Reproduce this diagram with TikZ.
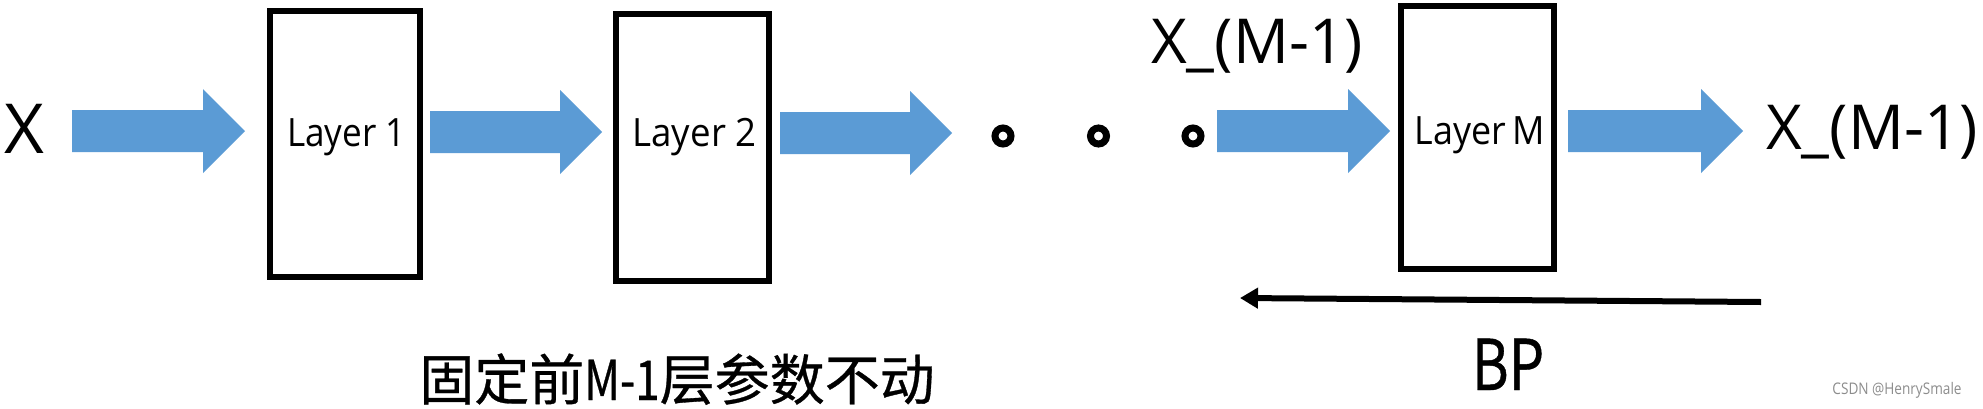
\documentclass[tikz,border=0pt]{standalone}
\usepackage{fontspec}
\setmainfont{Open Sans}
\newfontfamily\cjk{Noto Sans CJK SC}[FakeBold=0.6]
\usetikzlibrary{arrows.meta}
\definecolor{arrowblue}{RGB}{91,155,213}
\newcommand\blockarrow[3]{%
  \fill[arrowblue] (#1,#3-21) -- (#2-42,#3-21) -- (#2-42,#3-42) -- (#2,#3) -- (#2-42,#3+42) -- (#2-42,#3+21) -- (#1,#3+21) -- cycle;}
\begin{document}
\begin{tikzpicture}[x=1pt,y=-1pt,
  layerbox/.style={draw=black,line width=6pt,minimum width=153pt,minimum height=266pt,inner sep=0pt},
  bigtxt/.style={anchor=base,inner sep=0pt,font=\fontsize{62}{74}\selectfont},
  laytxt/.style={anchor=base,inner sep=0pt,font=\fontsize{39}{47}\selectfont},
  dotring/.style={draw=black,line width=7pt,circle,minimum size=16pt,inner sep=0pt},
  cjktxt/.style={anchor=base,inner sep=0pt,font=\cjk\fontsize{55}{66}\selectfont}]
\useasboundingbox (0,0) rectangle (1983,408);
% boxes
\node[layerbox,minimum width=150pt] (b1) at (345,144) {};
\node[layerbox,minimum height=267pt] (b2) at (692.5,147.5) {};
\node[layerbox,minimum height=263pt] (bm) at (1477.5,137.5) {};
% labels in boxes
\node[laytxt] (l1) at (346.5,146) {\scalebox{0.9}[1]{Layer 1}};
\node[laytxt] (l2) at (694.5,146) {\scalebox{0.94}[1]{Layer 2}};
\node[laytxt] (lm) at (1480,144) {\scalebox{0.92}[1]{Layer\hspace{7pt}M}};
% texts
\node[anchor=base,inner sep=0pt,font=\fontsize{69}{80}\selectfont] (x) at (24,153) {X};
\node[bigtxt] (xin) at (1257,63) {X\_(M-1)};
\node[bigtxt] (xout) at (1872,149) {X\_(M-1)};
% dots
\node[dotring] (d1) at (1003,136) {};
\node[dotring] (d2) at (1098.5,136) {};
\node[dotring] (d3) at (1193,136) {};
% block arrows
\blockarrow{72}{245}{131}
\blockarrow{430}{602}{132}
\blockarrow{780}{952}{133}
\blockarrow{1217}{1390}{131}
\blockarrow{1568}{1743}{131}
% BP arrow
\coordinate (bps) at (1761,302);
\coordinate (bpe) at (1240,298);
\draw[line width=6pt,-{Triangle[length=18pt,width=20pt]}] (bps) -- (bpe);
\node[anchor=base,inner sep=0pt,font=\cjk\fontsize{70}{84}\selectfont] (bp) at (1508,390) {\scalebox{0.8}[1]{BP}};
\node[cjktxt] (fix) at (677,400) {固定前\scalebox{0.8}[1]{M-1}层参数不动};
\node[anchor=base,inner sep=0pt,text=black!45,font=\fontsize{16}{19}\selectfont] (wm) at (1897,394) {\scalebox{0.85}[1]{CSDN @HenrySmale}};
\end{tikzpicture}
\end{document}
